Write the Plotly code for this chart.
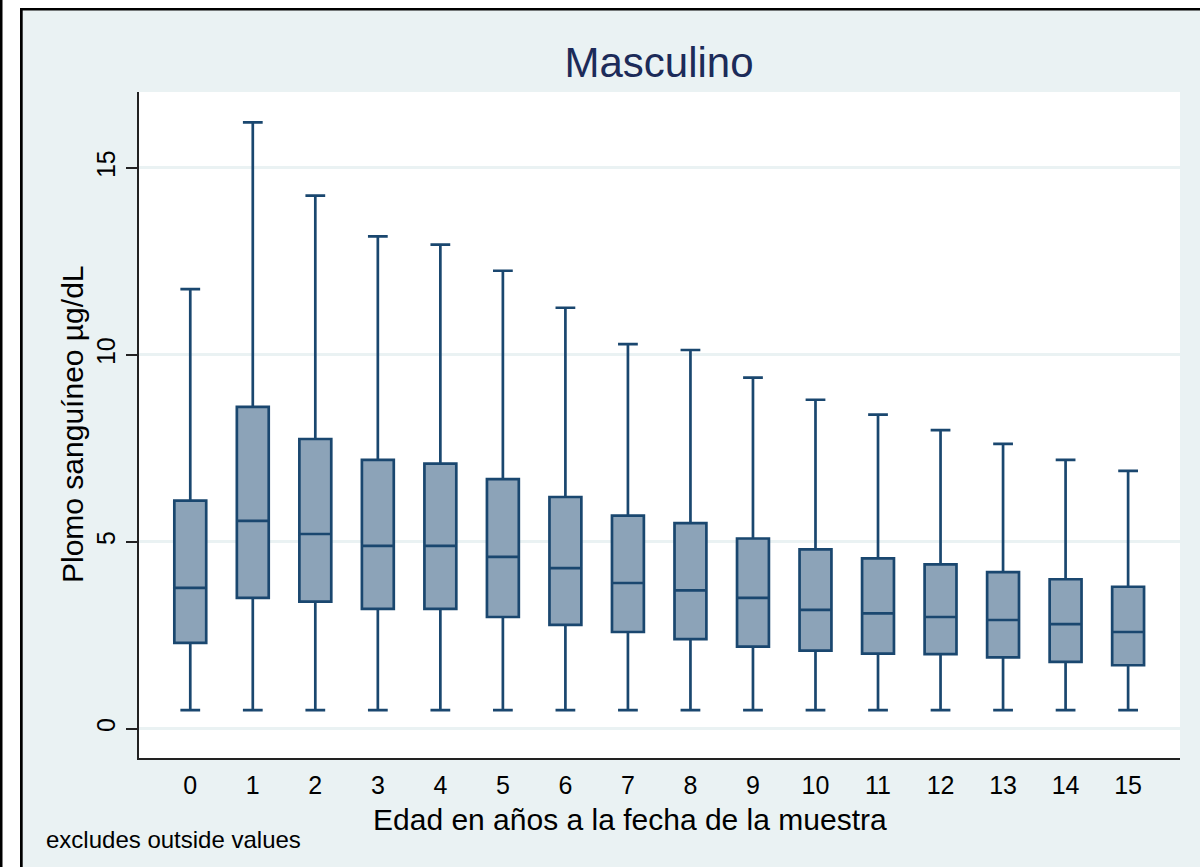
import plotly.graph_objects as go

# ---- data ----
edad = list(range(16))
tick_labels = [str(a) for a in edad]
lower_whisker = [0.5] * 16
q1 = [2.30, 3.50, 3.40, 3.21, 3.21, 2.99, 2.78, 2.59, 2.40, 2.20, 2.09, 2.01, 2.00, 1.91, 1.79, 1.70]
median = [3.77, 5.56, 5.21, 4.89, 4.89, 4.60, 4.30, 3.90, 3.70, 3.50, 3.18, 3.09, 2.99, 2.91, 2.80, 2.59]
q3 = [6.10, 8.61, 7.75, 7.19, 7.09, 6.68, 6.20, 5.70, 5.50, 5.09, 4.80, 4.56, 4.40, 4.19, 4.00, 3.80]
upper_whisker = [11.76, 16.22, 14.26, 13.17, 12.95, 12.25, 11.26, 10.29, 10.13, 9.39, 8.80, 8.40, 7.99, 7.62, 7.19, 6.90]
y_ticks = [0, 5, 10, 15]

# ---- geometry ----
W, H = 1200, 867
L, R, T, B = 139, 1180, 92, 758  # plot area in pixels

def px(xpix):
    return (xpix - L) / (R - L)

def py(ypix):
    return (B - ypix) / (B - T)

NAVY = "#1A476F"
FILL = "#8CA3B8"
BG = "#EAF2F3"
FONT = "Liberation Sans, Arial, Helvetica, sans-serif"

fig = go.Figure()
fig.add_trace(go.Box(
    x=edad,
    q1=q1, median=median, q3=q3,
    lowerfence=lower_whisker, upperfence=upper_whisker,
    fillcolor=FILL,
    line=dict(color=NAVY, width=2.7),
    width=0.51,
    whiskerwidth=0.62,
    boxpoints=False,
    showlegend=False,
))

shapes = [
    dict(type="rect", xref="paper", yref="paper", x0=px(0), x1=px(20.5), y0=py(0), y1=py(H),
         fillcolor="white", line=dict(width=0), layer="above"),
    dict(type="rect", xref="paper", yref="paper", x0=px(0), x1=px(W), y0=py(0), y1=py(8.5),
         fillcolor="white", line=dict(width=0), layer="above"),
    dict(type="rect", xref="paper", yref="paper", x0=px(0), x1=px(2.5), y0=py(0), y1=py(H),
         fillcolor="black", line=dict(width=0), layer="above"),
    dict(type="rect", xref="paper", yref="paper", x0=px(20), x1=px(22.7), y0=py(8), y1=py(H),
         fillcolor="black", line=dict(width=0), layer="above"),
    dict(type="rect", xref="paper", yref="paper", x0=px(20), x1=px(W), y0=py(8), y1=py(10.6),
         fillcolor="black", line=dict(width=0), layer="above"),
]

annotations = [
    dict(text="Edad en años a la fecha de la muestra", xref="paper", yref="paper",
         x=px(630), y=py(819), xanchor="center", yanchor="middle", showarrow=False,
         font=dict(family=FONT, size=30, color="black")),
    dict(text="Plomo sanguíneo µg/dL", xref="paper", yref="paper",
         x=px(72), y=py(424), xanchor="center", yanchor="middle", showarrow=False,
         textangle=-90, font=dict(family=FONT, size=30, color="black")),
    dict(text="excludes outside values", xref="paper", yref="paper",
         x=px(44), y=py(839), xanchor="left", yanchor="middle", showarrow=False,
         font=dict(family=FONT, size=24, color="black")),
]

fig.update_layout(
    width=W, height=H,
    margin=dict(l=L, r=W - R, t=T, b=H - B, pad=0),
    paper_bgcolor=BG,
    plot_bgcolor="white",
    title=dict(text="Masculino", x=px(659), xref="paper", y=1 - 62 / H, yref="container",
               xanchor="center", yanchor="middle",
               font=dict(family=FONT, size=42, color="#1C2B59")),
    font=dict(family=FONT, color="black"),
    shapes=shapes,
    annotations=annotations,
    showlegend=False,
)

fig.update_xaxes(
    range=[-0.82, 15.83],
    tickmode="array", tickvals=edad, ticktext=tick_labels,
    ticks="", showgrid=False, zeroline=False,
    showline=True, linecolor="#222222", linewidth=2,
    tickfont=dict(family=FONT, size=25, color="black"),
    ticklabelstandoff=4,
)
fig.update_yaxes(
    range=[-0.78, 17.03],
    tickmode="array", tickvals=y_ticks, ticktext=[str(v) for v in y_ticks],
    ticks="outside", ticklen=11, tickwidth=2, tickcolor="#222222",
    tickangle=-90,
    showgrid=True, gridcolor=BG, gridwidth=2.5, zeroline=False,
    showline=True, linecolor="#222222", linewidth=2,
    tickfont=dict(family=FONT, size=25, color="black"),
    ticklabelstandoff=1,
)

fig.write_html("out.html", config={"displayModeBar": False},
               post_script="document.body.style.margin='0';")
